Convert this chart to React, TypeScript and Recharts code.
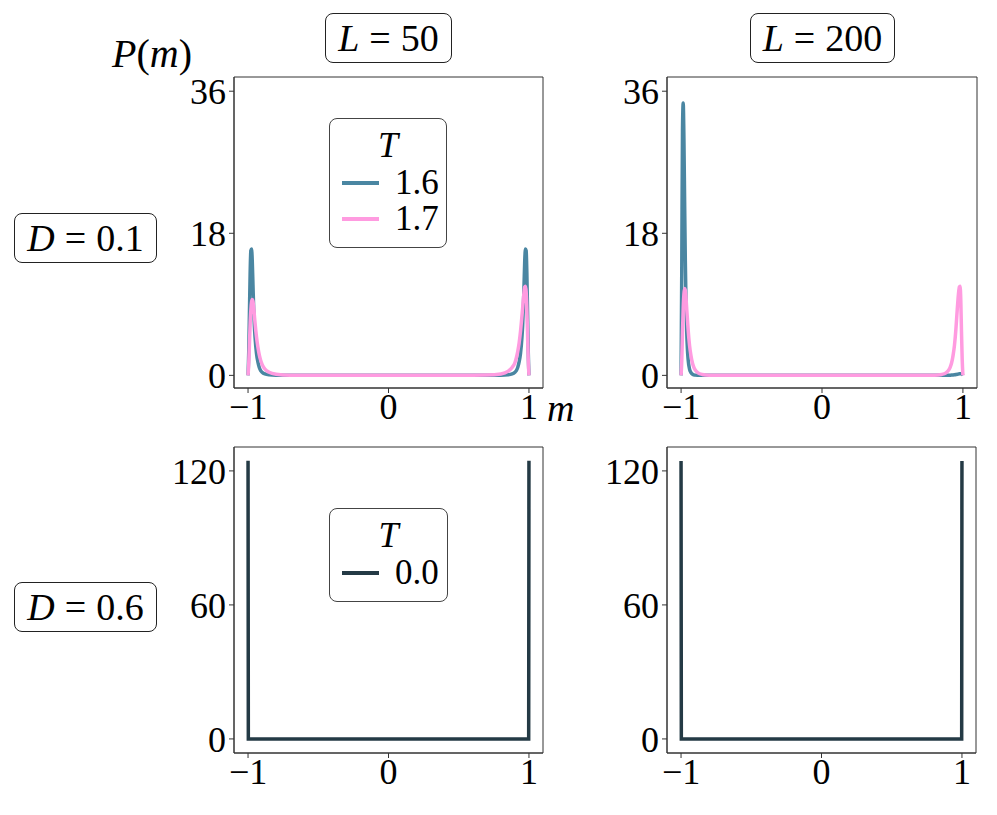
import React from "react";
import { LineChart, Line, XAxis, YAxis, ReferenceArea } from "recharts";

// m grid shared by the two top panels
const mGrid = [
  -1, -0.995, -0.99, -0.985, -0.98, -0.975, -0.97, -0.965, -0.96, -0.955, -0.95,
  -0.94, -0.93, -0.92, -0.91, -0.9, -0.88, -0.85, -0.8, -0.7, -0.5, 0, 0.5, 0.7,
  0.8, 0.85, 0.88, 0.9, 0.91, 0.92, 0.93, 0.94, 0.95, 0.955, 0.96, 0.965, 0.97,
  0.975, 0.98, 0.985, 0.99, 0.995, 1,
];

// D = 0.1, L = 50
const l50T16 = [
  0, 3, 8, 13, 15.8, 16, 14.5, 11.5, 8.5, 6.3, 4.8, 2.8, 1.7, 1.0, 0.6, 0.4, 0.18, 0.07, 0.02, 0.005, 0.002,
  0.002,
  0.002, 0.005, 0.02, 0.07, 0.18, 0.4, 0.6, 1.0, 1.7, 2.8, 4.8, 6.3, 8.5, 11.5, 14.5, 16, 15.8, 13, 8, 3, 0,
];
const l50T17 = [
  0, 1.5, 4, 6.5, 8.3, 9.3, 9.6, 9.4, 8.6, 7.6, 6.6, 4.9, 3.6, 2.6, 1.9, 1.4, 0.8, 0.4, 0.15, 0.03, 0.005,
  0.003,
  0.005, 0.04, 0.18, 0.5, 1.0, 1.6, 2.2, 3.0, 4.1, 5.6, 7.5, 8.5, 9.6, 10.6, 11.2, 11.3, 10.6, 8.5, 5.2, 2, 0,
];

// D = 0.1, L = 200
const l200T16 = [
  0, 14, 31, 34.5, 30, 22, 14.5, 9, 5.5, 3.3, 2, 0.8, 0.35, 0.15, 0.07, 0.03, 0.01, 0, 0, 0, 0,
  0,
  0, 0, 0, 0.005, 0.01, 0.02, 0.03, 0.04, 0.05, 0.07, 0.1, 0.12, 0.14, 0.16, 0.18, 0.2, 0.2, 0.2, 0.2, 0.15, 0,
];
const l200T17 = [
  0, 2, 5.5, 8.5, 10.3, 11, 10.8, 9.8, 8.4, 7.1, 5.8, 3.8, 2.5, 1.6, 1.05, 0.7, 0.32, 0.12, 0.03, 0, 0,
  0,
  0, 0, 0.03, 0.12, 0.32, 0.7, 1.05, 1.6, 2.5, 3.8, 5.8, 7.1, 8.4, 9.6, 10.6, 11.2, 11.3, 9.5, 5.5, 2, 0,
];

// D = 0.6, T = 0.0
const mBottom = [-1, -0.998, 0, 0.998, 1];
const l50T00 = [124.5, 0, 0, 0, 124.5];
const l200T00 = [124.4, 0, 0, 0, 124.4];

const mTicks = [-1, 0, 1];
const topTicks = [0, 18, 36];
const bottomTicks = [0, 60, 120];

const BLUE = "#4a86a2";
const PINK = "#ff9be0";
const DARK = "#243a45";
const AXIS = "#333";
const FONT = '"Liberation Serif", "DejaVu Serif", serif';

const topLeftData = mGrid.map((m, i) => ({ m, t16: l50T16[i], t17: l50T17[i] }));
const topRightData = mGrid.map((m, i) => ({ m, t16: l200T16[i], t17: l200T17[i] }));
const bottomLeftData = mBottom.map((m, i) => ({ m, t00: l50T00[i] }));
const bottomRightData = mBottom.map((m, i) => ({ m, t00: l200T00[i] }));

const fmt = (v: number) => (v < 0 ? "\u2212" + Math.abs(v) : String(v));
const tickStyle = { fill: "#000", fontSize: 36, fontFamily: FONT };
const X_DOMAIN: [number, number] = [-1.1, 1.1];

interface Series {
  key: string;
  color: string;
  curve: "monotone" | "linear";
}

interface PanelProps {
  x: number;
  y: number;
  w: number;
  h: number;
  data: any[];
  series: Series[];
  yDomain: [number, number];
  yTicks: number[];
}

function Panel({ x, y, w, h, data, series, yDomain, yTicks }: PanelProps) {
  const YW = 80;
  const XH = 50;
  const TOP = 20;
  const RIGHT = 4;
  return (
    <div style={{ position: "absolute", left: x - YW, top: y - TOP }}>
      <LineChart
        width={YW + w + RIGHT}
        height={TOP + h + XH}
        data={data}
        margin={{ top: TOP, right: RIGHT, left: 0, bottom: 0 }}
      >
        <XAxis
          dataKey="m"
          type="number"
          domain={X_DOMAIN}
          ticks={mTicks}
          interval={0}
          allowDataOverflow
          height={XH}
          tickSize={5}
          tickMargin={0}
          tickFormatter={fmt}
          tick={tickStyle}
          stroke={AXIS}
        />
        <YAxis
          type="number"
          domain={yDomain}
          ticks={yTicks}
          interval={0}
          allowDataOverflow
          width={YW}
          tickSize={5}
          tickMargin={3}
          tick={tickStyle}
          stroke={AXIS}
        />
        {/* full box around the axes */}
        <ReferenceArea
          x1={X_DOMAIN[0]}
          x2={X_DOMAIN[1]}
          y1={yDomain[0]}
          y2={yDomain[1]}
          ifOverflow="visible"
          fill="none"
          fillOpacity={0}
          stroke={AXIS}
          strokeWidth={1}
        />
        {series.map((s) => (
          <Line
            key={s.key}
            dataKey={s.key}
            type={s.curve}
            stroke={s.color}
            strokeWidth={3.5}
            dot={false}
            activeDot={false}
            isAnimationActive={false}
          />
        ))}
      </LineChart>
    </div>
  );
}

function Box({ left, top, width, height, children }: any) {
  return (
    <div
      style={{
        position: "absolute",
        left,
        top,
        width,
        height,
        boxSizing: "border-box",
        border: "1.5px solid #222",
        borderRadius: 8,
        background: "#fff",
        display: "flex",
        alignItems: "center",
        justifyContent: "center",
        fontFamily: FONT,
        fontSize: 38,
        color: "#000",
        whiteSpace: "nowrap",
      }}
    >
      {children}
    </div>
  );
}

const Eq = () => <span style={{ margin: "0 10px" }}>=</span>;

function LegendBox({ left, top, width, height, items }: any) {
  return (
    <div
      style={{
        position: "absolute",
        left,
        top,
        width,
        height,
        boxSizing: "border-box",
        border: "1.5px solid #444",
        borderRadius: 8,
        background: "#fff",
        fontFamily: FONT,
        color: "#000",
      }}
    >
      <div style={{ textAlign: "center", fontSize: 36, fontStyle: "italic", lineHeight: "40px", marginTop: 6 }}>T</div>
      {items.map((it: any) => (
        <div key={it.label} style={{ display: "flex", alignItems: "center", height: 36, paddingLeft: 12 }}>
          <div style={{ width: 37, height: 3.5, background: it.color }} />
          <span style={{ fontSize: 35, marginLeft: 16 }}>{it.label}</span>
        </div>
      ))}
    </div>
  );
}

const topSeries: Series[] = [
  { key: "t16", color: BLUE, curve: "monotone" },
  { key: "t17", color: PINK, curve: "monotone" },
];
const bottomSeries: Series[] = [{ key: "t00", color: DARK, curve: "linear" }];

export default function App() {
  return (
    <div style={{ position: "absolute", left: 0, top: 0, width: 997, height: 815, background: "#fff", overflow: "hidden" }}>
      <Panel x={234} y={77} w={309} h={311} data={topLeftData} series={topSeries} yDomain={[-1.6, 37.8]} yTicks={topTicks} />
      <Panel x={667} y={77} w={310} h={311} data={topRightData} series={topSeries} yDomain={[-1.6, 37.8]} yTicks={topTicks} />
      <Panel x={234} y={447} w={309} h={306} data={bottomLeftData} series={bottomSeries} yDomain={[-6.3, 130.7]} yTicks={bottomTicks} />
      <Panel x={667} y={447} w={309} h={306} data={bottomRightData} series={bottomSeries} yDomain={[-6.3, 130.7]} yTicks={bottomTicks} />

      <Box left={325} top={13} width={127} height={50}>
        <i>L</i>
        <Eq />
        50
      </Box>
      <Box left={750} top={13} width={145} height={50}>
        <i>L</i>
        <Eq />
        200
      </Box>
      <Box left={14} top={213} width={143} height={50}>
        <i>D</i>
        <Eq />
        0.1
      </Box>
      <Box left={14} top={582} width={143} height={50}>
        <i>D</i>
        <Eq />
        0.6
      </Box>

      <div style={{ position: "absolute", left: 112, top: 30, fontFamily: FONT, fontSize: 40, lineHeight: "48px", whiteSpace: "nowrap" }}>
        <i>P</i>(<i>m</i>)
      </div>
      <div style={{ position: "absolute", left: 547, top: 388, fontFamily: FONT, fontSize: 38, lineHeight: "40px", fontStyle: "italic" }}>
        m
      </div>

      <LegendBox
        left={329}
        top={118}
        width={118}
        height={130}
        items={[
          { label: "1.6", color: BLUE },
          { label: "1.7", color: PINK },
        ]}
      />
      <LegendBox left={329} top={508} width={119} height={94} items={[{ label: "0.0", color: DARK }]} />
    </div>
  );
}
